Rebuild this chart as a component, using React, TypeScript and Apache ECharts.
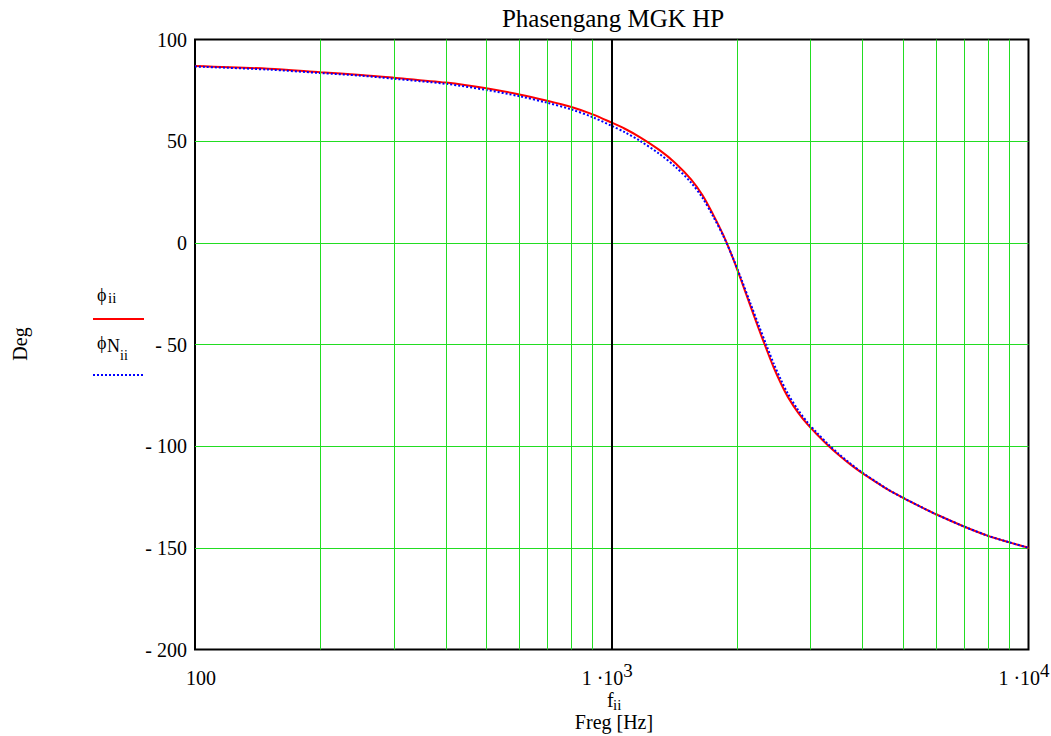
import React, { useEffect, useRef } from 'react';
import * as echarts from 'echarts';

const FONT = 'Liberation Serif';

// frequency samples [Hz]
const freq = [100, 150, 200, 250, 300, 400, 500, 600, 700, 800, 900, 1000, 1075, 1170, 1300, 1420, 1550, 1650, 1750, 1850, 1950, 2050, 2150, 2250, 2350, 2450, 2550, 2650, 2800, 2950, 3100, 3300, 3500, 3750, 4000, 4300, 4600, 5000, 5500, 6000, 7000, 8000, 9000, 10000];
// phase phi_ii [deg] (red, solid)
const phi = [87.0, 85.6, 83.9, 82.6, 81.2, 78.8, 76.0, 73.0, 69.9, 66.8, 63.2, 59.1, 56.1, 51.9, 45.7, 39.3, 31.2, 23.5, 14.0, 4.0, -7.2, -19.1, -30.9, -42.0, -52.2, -61.6, -69.4, -76.0, -83.5, -89.3, -94.0, -99.5, -104.2, -109.2, -113.4, -117.6, -121.4, -125.4, -129.7, -133.5, -139.5, -144.1, -147.3, -150.0];
// phase phi_N_ii [deg] (blue, dotted)
const phiN = [86.7, 85.2, 83.5, 82.2, 80.7, 78.2, 75.2, 72.1, 68.9, 65.6, 61.8, 57.5, 54.4, 50.1, 43.8, 37.5, 29.6, 22.2, 13.1, 3.6, -7.0, -18.3, -29.6, -40.3, -50.3, -59.7, -67.6, -74.4, -82.2, -88.3, -93.2, -98.9, -103.7, -108.8, -113.1, -117.4, -121.3, -125.4, -129.7, -133.5, -139.5, -144.1, -147.3, -150.0];

// vertical grid lines
const minorFreqs = [200, 300, 400, 500, 600, 700, 800, 900, 2000, 3000, 4000, 5000, 6000, 7000, 8000, 9000];
const majorFreqs = [1000];
// x tick labels
const xLabels: Record<number, string> = { 100: '{b|100}', 1000: '{a|1 ·10}{s|3}', 10000: '{a|1 ·10}{s|4}' };

const GREEN = '#22dd22';

export default function App() {
  const ref = useRef<HTMLDivElement>(null);
  useEffect(() => {
    if (!ref.current) return;
    const chart = echarts.init(ref.current, null, { renderer: 'svg' });
    const txt = (x: number, y: number, text: string, size: number, align = 'left', rotation = 0) => ({
      type: 'text',
      x,
      y,
      rotation,
      silent: true,
      style: { text, fontFamily: FONT, fontSize: size, fill: '#000', align, verticalAlign: 'middle' },
    });
    chart.setOption({
      animation: false,
      backgroundColor: '#fff',
      title: {
        text: 'Phasengang MGK HP',
        left: 613,
        top: 6,
        padding: 0,
        textAlign: 'center',
        textStyle: { fontFamily: FONT, fontSize: 25, fontWeight: 'normal', color: '#000', lineHeight: 25 },
      },
      grid: {
        left: 195,
        top: 39.5,
        right: 22.5,
        bottom: 86.5,
        containLabel: false,
        outerBoundsMode: 'none',
        show: true,
        borderColor: '#000',
        borderWidth: 2,
        backgroundColor: 'transparent',
      },
      xAxis: {
        type: 'log',
        logBase: 10,
        min: 100,
        max: 10000,
        axisLine: { show: false },
        axisTick: { show: false },
        splitLine: { show: false },
        axisLabel: {
          margin: 11.5,
          color: '#000',
          fontFamily: FONT,
          fontSize: 20,
          formatter: (v: number) => xLabels[Math.round(v)] ?? '',
          rich: {
            a: { fontFamily: FONT, fontSize: 20, color: '#000', lineHeight: 34 },
            b: { fontFamily: FONT, fontSize: 20, color: '#000', lineHeight: 34, padding: [0, 0, 0, 12] },
            s: { fontFamily: FONT, fontSize: 19, color: '#000', lineHeight: 20, verticalAlign: 'top', padding: [0, 9, 0, 0] },
          },
        },
      },
      yAxis: {
        type: 'value',
        min: -200,
        max: 100,
        interval: 50,
        axisLine: { show: false },
        axisTick: { show: false },
        splitLine: { show: true, showMinLine: false, showMaxLine: false, lineStyle: { color: GREEN, width: 1 } },
        axisLabel: {
          margin: 8,
          color: '#000',
          fontFamily: FONT,
          fontSize: 20,
          formatter: (v: number) => (v < 0 ? '- ' + Math.abs(v) : String(v)),
        },
      },
      series: [
        {
          type: 'line',
          data: [],
          z: 1,
          silent: true,
          markLine: {
            silent: true,
            symbol: ['none', 'none'],
            label: { show: false },
            lineStyle: { color: GREEN, width: 1, type: 'solid', opacity: 1 },
            emphasis: { disabled: true },
            data: minorFreqs.map((f) => ({ xAxis: f })),
          },
        },
        {
          type: 'line',
          data: [],
          z: 1.5,
          silent: true,
          markLine: {
            silent: true,
            symbol: ['none', 'none'],
            label: { show: false },
            lineStyle: { color: '#000', width: 2, type: 'solid', opacity: 1 },
            emphasis: { disabled: true },
            data: majorFreqs.map((f) => ({ xAxis: f })),
          },
        },
        {
          name: 'phi',
          type: 'line',
          z: 3,
          smooth: 0.3,
          showSymbol: false,
          symbol: 'none',
          lineStyle: { color: '#ff0000', width: 2 },
          data: freq.map((f, i) => [f, phi[i]]),
        },
        {
          name: 'phiN',
          type: 'line',
          z: 4,
          smooth: 0.3,
          showSymbol: false,
          symbol: 'none',
          lineStyle: { color: '#0000ff', width: 2, type: [2, 2] },
          data: freq.map((f, i) => [f, phiN[i]]),
        },
      ],
      graphic: [
        txt(20, 344, 'Deg', 20, 'center', Math.PI / 2),
        txt(97, 295, '\u03D5', 18),
        txt(108, 298, 'ii', 15),
        { type: 'line', silent: true, shape: { x1: 93, y1: 319, x2: 144, y2: 319 }, style: { stroke: '#ff0000', lineWidth: 2 } },
        txt(97, 343, '\u03D5', 18),
        txt(107, 345.5, 'N', 18),
        txt(120, 355, 'ii', 14),
        { type: 'line', silent: true, shape: { x1: 93, y1: 375, x2: 144, y2: 375 }, style: { stroke: '#0000ff', lineWidth: 2, lineDash: [2, 2] } },
        txt(607, 700, 'f', 20),
        txt(613, 705, 'ii', 15),
        txt(614, 722, 'Freg [Hz]', 20, 'center'),
      ],
    });
    return () => chart.dispose();
  }, []);
  return <div ref={ref} style={{ position: 'fixed', left: 0, top: 0, width: 1051, height: 736 }} />;
}
